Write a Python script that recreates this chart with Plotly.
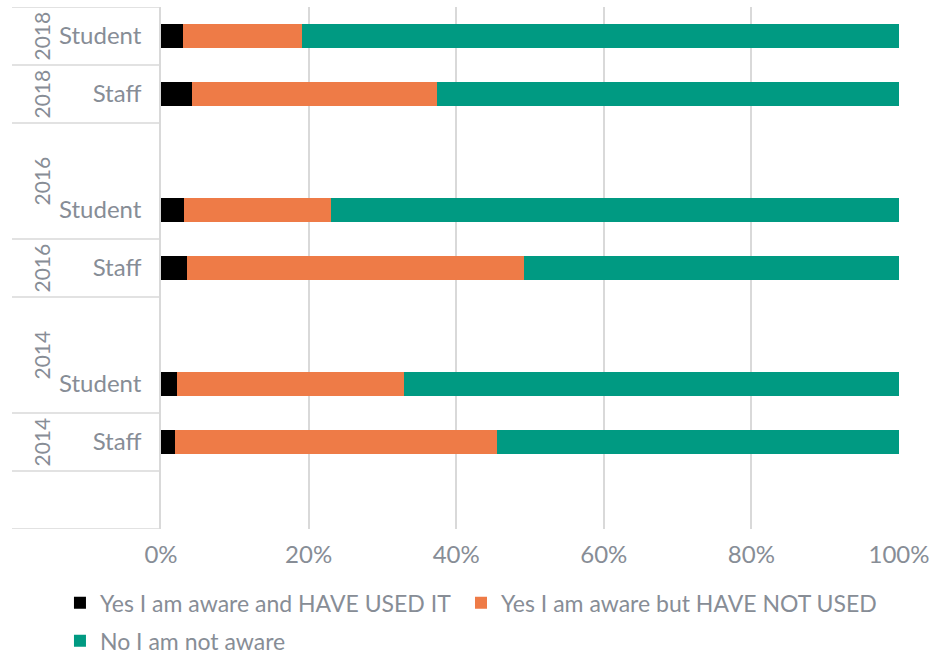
import plotly.graph_objects as go

# ---- data ----
categories = ["Student", "Staff", "", "Student", "Staff", "", "Student", "Staff", ""]
year_labels = ["2018", "2018", "2016", "2016", "2014", "2014", ""]
year_spans = [1, 1, 2, 1, 2, 1, 1]
bar_rows = [0, 1, 3, 4, 6, 7]
series_names = ["Yes I am aware and HAVE USED IT",
                "Yes I am aware but HAVE NOT USED",
                "No I am not aware"]
used = [0.030, 0.042, 0.031, 0.035, 0.021, 0.019]
not_used = [0.161, 0.332, 0.200, 0.457, 0.308, 0.436]
not_aware = [0.809, 0.626, 0.769, 0.508, 0.671, 0.545]
x_ticks = [0, 0.2, 0.4, 0.6, 0.8, 1.0]
x_ticklabels = ["0%", "20%", "40%", "60%", "80%", "100%"]

colors = ["#000000", "#EE7B47", "#009A82"]
legend_ids = ["legend", "legend3", "legend2"]
font_color = "#878D96"
font_family = "Lato, 'Open Sans', sans-serif"
grid_color = "#D9D9D9"

fig = go.Figure()
for name, vals, col, lg in zip(series_names, [used, not_used, not_aware], colors, legend_ids):
    fig.add_trace(go.Bar(
        y=bar_rows, x=vals, name=name, orientation="h",
        marker=dict(color=col, line=dict(width=0)),
        width=0.4, legend=lg,
    ))

n_rows = len(categories)
tick_rows = [i for i, c in enumerate(categories) if c]
tick_text = [categories[i] for i in tick_rows]

# year group separators and labels (left of axis)
x_left = (12 - 161) / 738
x_year = (26 - 161) / 738
start = -0.5
bounds = [start]
for lab, span in zip(year_labels, year_spans):
    end = start + span
    bounds.append(end)
    if lab:
        fig.add_annotation(
            x=x_year, xref="paper", y=(start + end) / 2, yref="y",
            text=lab, textangle=-90, showarrow=False,
            font=dict(size=21, color=font_color, family=font_family),
        )
    start = end
for b in bounds:
    fig.add_shape(type="line", xref="paper", yref="y",
                  x0=x_left, x1=0, y0=b, y1=b,
                  line=dict(color=grid_color, width=1.5))

legend_common = dict(
    orientation="h", xanchor="left", yanchor="top",
    font=dict(size=23, color=font_color, family=font_family),
    traceorder="normal", itemclick=False, itemdoubleclick=False,
    bgcolor="rgba(0,0,0,0)",
)
fig.update_layout(
    barmode="stack",
    width=932, height=657,
    margin=dict(l=161, r=33, t=7, b=128, autoexpand=False),
    plot_bgcolor="white", paper_bgcolor="white",
    font=dict(family=font_family, size=23, color=font_color),
    showlegend=True,
    legend=dict(x=-0.1369, y=-0.100, **legend_common),
    legend3=dict(x=0.4065, y=-0.100, **legend_common),
    legend2=dict(x=-0.1369, y=-0.173, **legend_common),
)
fig.update_xaxes(
    range=[0, 1], tickvals=x_ticks, ticktext=x_ticklabels,
    showgrid=True, gridcolor=grid_color, gridwidth=1.5,
    zeroline=False, showline=False, ticks="", ticklabelstandoff=9,
    tickfont=dict(size=24), fixedrange=True,
)
fig.update_yaxes(
    range=[n_rows - 0.5, -0.5], tickvals=tick_rows, ticktext=tick_text,
    showgrid=False, zeroline=False, showline=True, linecolor=grid_color,
    linewidth=1.5, ticks="", ticklabelstandoff=13,
    tickfont=dict(size=24), fixedrange=True,
)

fig.write_html("out.html")
